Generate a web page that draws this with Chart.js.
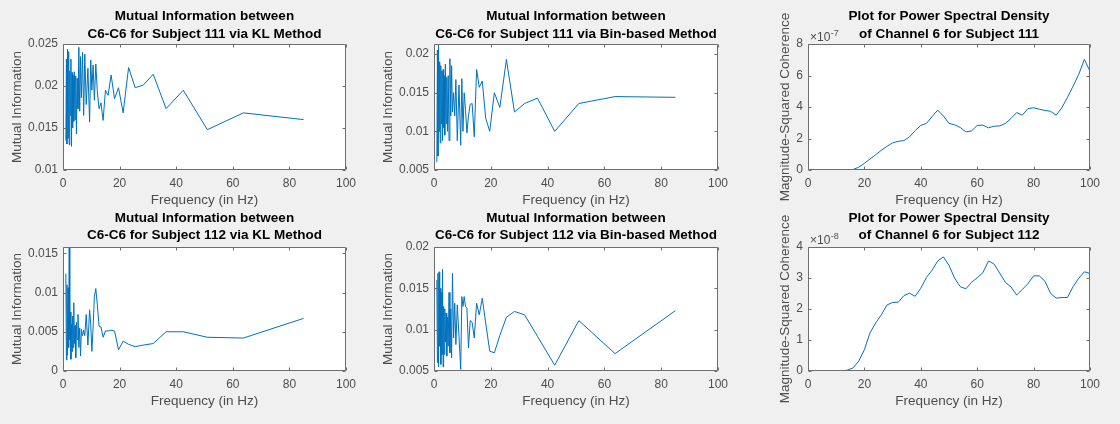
<!DOCTYPE html>
<html><head><meta charset="utf-8">
<script src="https://cdn.jsdelivr.net/npm/chart.js@4.4.1/dist/chart.umd.min.js"></script>
<style>
html,body{margin:0;padding:0;background:#f0f0f0;}
#wrap{position:relative;width:1120px;height:424px;background:#f0f0f0;overflow:hidden;}
#wrap canvas{position:absolute;}
</style></head><body><div id="wrap"></div>
<script>
// ---------- data ----------
const freqHz = [1.0,1.2,1.4,1.6,1.8,2.0,2.2,2.4,2.6,2.8,3.0,3.2,3.4,3.6,3.8,4.0,4.25,4.5,4.75,5.0,5.3,5.6,5.9,6.2,6.5,6.9,7.3,7.7,8.2,8.8,9.4,9.8,
  10.2,10.63,11.09,11.59,12.14,12.75,13.42,14.17,15,15.94,17,18.21,19.62,21.25,23.18,25.5,28.33,31.88,36.43,42.5,51,63.75,85];
const miKL111 = [0.0135,0.0232,0.0131,0.0244,0.0138,0.0241,0.0130,0.0218,0.0165,0.0232,0.0128,0.0216,0.0150,0.0213,0.0158,0.0217,0.0160,0.0212,0.0143,0.0209,0.0173,0.0246,0.0170,0.0235,0.0186,0.0240,0.0165,0.0238,0.0178,0.0221,0.0157,0.0231,
  0.0195,0.0225,0.0183,0.0226,0.0193,0.0173,0.0180,0.0159,0.0195,0.0189,0.0213,0.0185,0.0198,0.0168,0.0222,0.0198,0.0201,0.0214,0.0173,0.0195,0.0148,0.0168,0.0160];
const miBin111 = [0.0060,0.0205,0.0068,0.0213,0.0100,0.0190,0.0085,0.0185,0.0110,0.0178,0.0088,0.0180,0.0105,0.0172,0.0095,0.0187,0.0110,0.0170,0.0100,0.0172,0.0088,0.0194,0.0120,0.0185,0.0125,0.0150,0.0120,0.0167,0.0088,0.0160,0.0082,0.0168,
  0.0100,0.0150,0.0128,0.0098,0.0120,0.0135,0.0136,0.0093,0.0180,0.0157,0.0165,0.0117,0.0100,0.0150,0.0131,0.0193,0.0125,0.0136,0.0143,0.0100,0.0136,0.0145,0.0144];
const miKL112 = [0.0124,0.0014,0.0110,0.0020,0.0106,0.0030,0.0158,0.0040,0.0075,0.0015,0.0060,0.0025,0.0070,0.0030,0.0087,0.0035,0.0058,0.0017,0.0062,0.0040,0.0072,0.0030,0.0055,0.0019,0.0053,0.0045,0.0052,0.0045,0.0072,0.0033,0.0078,0.0060,
  0.0025,0.0055,0.0095,0.0105,0.0084,0.0057,0.0056,0.0043,0.0051,0.0051,0.0052,0.0051,0.0027,0.0038,0.0034,0.0031,0.0033,0.0035,0.0050,0.0050,0.0043,0.0042,0.0067];
const miBin112 = [0.0160,0.0060,0.0168,0.0055,0.0170,0.0080,0.0150,0.0058,0.0145,0.0070,0.0173,0.0055,0.0128,0.0070,0.0125,0.0085,0.0120,0.0068,0.0115,0.0080,0.0145,0.0072,0.0125,0.0066,0.0168,0.0090,0.0132,0.0082,0.0130,0.0092,0.0052,0.0140,
  0.0128,0.0140,0.0128,0.0126,0.0078,0.0111,0.0109,0.0090,0.0132,0.0118,0.0138,0.0108,0.0074,0.0072,0.0093,0.0115,0.0122,0.0118,0.0092,0.0057,0.0111,0.0071,0.0123];

const psdFreqHz = [0,2,4,6,8,10,12,14,16,18,20,22,24,26,28,30,32,34,36,38,40,42,44,46,48,50,52,54,56,58,60,62,64,66,68,70,72,74,76,78,80,82,84,86,88,90,92,94,96,98,100];
// in units of 1e-7
const psd111 = [0,0,0,0,0,0,0,0.005,0.03,0.18,0.42,0.70,0.97,1.25,1.50,1.72,1.82,1.87,2.10,2.50,2.83,2.96,3.39,3.80,3.43,2.96,2.87,2.70,2.42,2.48,2.83,2.85,2.68,2.78,2.80,2.96,3.28,3.65,3.48,3.90,3.95,3.86,3.78,3.73,3.48,3.95,4.61,5.32,6.07,7.02,6.27];
// in units of 1e-8
const psd112 = [0,0,0,0,0,0,0,0.03,0.10,0.32,0.69,1.23,1.55,1.81,2.13,2.21,2.22,2.43,2.51,2.41,2.67,3.02,3.25,3.55,3.68,3.41,2.99,2.72,2.65,2.86,3.01,3.17,3.55,3.45,3.15,2.86,2.71,2.45,2.63,2.82,3.07,3.07,2.90,2.51,2.35,2.37,2.37,2.72,2.99,3.20,3.15];

const xTicks = [0,20,40,60,80,100];
const ticksKL111 = [0.01,0.015,0.02,0.025];
const ticksBin111 = [0.005,0.01,0.015,0.02];
const ticksKL112 = [0,0.005,0.01,0.015];
const ticksBin112 = [0.005,0.01,0.015,0.02];
const ticksPsd111 = [0,2,4,6,8];
const ticksPsd112 = [0,1,2,3,4];

const titleKL111 = ['Mutual Information between','C6-C6 for Subject 111 via KL Method'];
const titleBin111 = ['Mutual Information between','C6-C6 for Subject 111 via Bin-based Method'];
const titlePsd111 = ['Plot for Power Spectral Density','of Channel 6 for Subject 111'];
const titleKL112 = ['Mutual Information between','C6-C6 for Subject 112 via KL Method'];
const titleBin112 = ['Mutual Information between','C6-C6 for Subject 112 via Bin-based Method'];
const titlePsd112 = ['Plot for Power Spectral Density','of Channel 6 for Subject 112'];
const xLabel = 'Frequency (in Hz)';
const yLabelMI = 'Mutual Information';
const yLabelPsd = 'Magnitude-Squared Coherence';

// ---------- drawing ----------
const FONT = '"Liberation Sans", Arial, Helvetica, sans-serif';
const LINE = '#0072BD';
const TXT = '#4d4d4d';
const AXC = '#6e6e6e';
const XH = 38.8;

const matlabAxes = {
  id: 'matlabAxes',
  beforeDraw(chart) {
    const a = chart.chartArea, ctx = chart.ctx;
    ctx.save();
    ctx.fillStyle = '#ffffff';
    ctx.fillRect(a.left, a.top, a.right - a.left, a.bottom - a.top);
    ctx.restore();
  },
  afterDraw(chart, args, o) {
    const a = chart.chartArea, ctx = chart.ctx;
    const xs = chart.scales.x, ys = chart.scales.y;
    ctx.save();
    ctx.strokeStyle = AXC;
    ctx.lineWidth = 1;
    const l = Math.round(a.left) + 0.5, r = Math.round(a.right) - 0.5;
    const t = Math.round(a.top) + 0.5, b = Math.round(a.bottom) - 0.5;
    ctx.beginPath();
    ctx.rect(l, t, r - l, b - t);
    const tl = 3;
    xs.ticks.forEach(tk => {
      const px = Math.round(xs.getPixelForValue(tk.value)) + 0.5;
      ctx.moveTo(px, b); ctx.lineTo(px, b - tl);
      ctx.moveTo(px, t); ctx.lineTo(px, t + tl);
    });
    ys.ticks.forEach(tk => {
      const py = Math.round(ys.getPixelForValue(tk.value)) + 0.5;
      ctx.moveTo(l, py); ctx.lineTo(l + tl, py);
      ctx.moveTo(r, py); ctx.lineTo(r - tl, py);
    });
    ctx.stroke();
    // title
    ctx.fillStyle = '#000';
    ctx.font = 'bold 13.5px ' + FONT;
    ctx.textAlign = 'center';
    ctx.textBaseline = 'middle';
    const cx = (a.left + a.right) / 2;
    o.title.forEach((s, i) => ctx.fillText(s, cx, o.titleY[i]));
    // exponent
    if (o.exponent) {
      ctx.fillStyle = TXT;
      ctx.textAlign = 'left';
      ctx.font = '12px ' + FONT;
      const ex = a.left + 2, ey = a.top - 6;
      ctx.fillText('\u00d710', ex, ey);
      const w = ctx.measureText('\u00d710').width;
      ctx.font = '9px ' + FONT;
      ctx.fillText(o.exponent, ex + w + 0.5, ey - 4.5);
    }
    ctx.restore();
  }
};

const wrap = document.getElementById('wrap');

function makePlot(p) {
  const c = document.createElement('canvas');
  c.width = p.reg.w; c.height = p.reg.h;
  c.style.left = p.reg.x + 'px'; c.style.top = p.reg.y + 'px';
  c.style.width = p.reg.w + 'px'; c.style.height = p.reg.h + 'px';
  wrap.appendChild(c);
  const pts = p.x.map((xv, i) => ({x: xv, y: p.y[i]}));
  new Chart(c, {
    type: 'line',
    data: {datasets: [{data: pts, borderColor: LINE, borderWidth: 1, pointRadius: 0, tension: 0, fill: false}]},
    options: {
      responsive: false, animation: false, devicePixelRatio: 1,
      events: [],
      layout: {padding: {
        left: (p.box.L - p.reg.x) - p.yw,
        right: (p.reg.x + p.reg.w) - p.box.R,
        top: p.box.T - p.reg.y,
        bottom: (p.reg.y + p.reg.h) - p.box.B - XH
      }},
      plugins: {
        legend: {display: false}, tooltip: {enabled: false}, title: {display: false},
        matlabAxes: {title: p.title, titleY: p.titleY.map(v => v - p.reg.y), exponent: p.exponent}
      },
      scales: {
        x: {
          type: 'linear', min: 0, max: 100,
          grid: {display: false, drawTicks: false}, border: {display: false},
          ticks: {autoSkip: false, maxRotation: 0, minRotation: 0, padding: 6, color: TXT,
                  font: {family: FONT, size: 12}, callback: v => String(v)},
          afterBuildTicks: s => { s.ticks = xTicks.map(v => ({value: v})); },
          afterFit: s => { s.height = XH; s.paddingLeft = 0; s.paddingRight = 0; },
          title: {display: true, text: xLabel, color: TXT, padding: 0, font: {family: FONT, size: 13.5, lineHeight: 1.2}}
        },
        y: {
          type: 'linear', min: p.ymin, max: p.ymax,
          grid: {display: false, drawTicks: false}, border: {display: false},
          ticks: {autoSkip: false, padding: 5, color: TXT, font: {family: FONT, size: 12}, callback: v => String(v)},
          afterBuildTicks: s => { s.ticks = p.yticks.map(v => ({value: v})); },
          afterFit: s => { s.width = p.yw; s.paddingTop = 0; s.paddingBottom = 0; },
          title: {display: true, text: p.ylabel, color: TXT, padding: 0, font: {family: FONT, size: 13.5, lineHeight: 1.2}}
        }
      }
    },
    plugins: [matlabAxes]
  });
}

const R1 = {T: 44, B: 170}, R2 = {T: 247, B: 371};
const C1 = {L: 63, R: 346}, C2 = {L: 434, R: 718}, C3 = {L: 808, R: 1090};
const reg = (x, y, w, h) => ({x, y, w, h});

makePlot({reg: reg(0, 0, 373, 212), box: {...C1, ...R1}, yw: 53.8, x: freqHz, y: miKL111,
  ymin: 0.01, ymax: 0.025, yticks: ticksKL111, ylabel: yLabelMI, title: titleKL111, titleY: [16.7, 34]});
makePlot({reg: reg(373, 0, 373, 212), box: {...C2, ...R1}, yw: 53.8, x: freqHz, y: miBin111,
  ymin: 0.005, ymax: 0.0213, yticks: ticksBin111, ylabel: yLabelMI, title: titleBin111, titleY: [16.7, 34]});
makePlot({reg: reg(746, 0, 374, 212), box: {...C3, ...R1}, yw: 31.1, x: psdFreqHz, y: psd111,
  ymin: 0, ymax: 8, yticks: ticksPsd111, ylabel: yLabelPsd, title: titlePsd111, titleY: [16.7, 34], exponent: '-7'});
makePlot({reg: reg(0, 212, 373, 212), box: {...C1, ...R2}, yw: 53.8, x: freqHz, y: miKL112,
  ymin: 0, ymax: 0.0158, yticks: ticksKL112, ylabel: yLabelMI, title: titleKL112, titleY: [218, 235.7]});
makePlot({reg: reg(373, 212, 373, 212), box: {...C2, ...R2}, yw: 53.8, x: freqHz, y: miBin112,
  ymin: 0.005, ymax: 0.02, yticks: ticksBin112, ylabel: yLabelMI, title: titleBin112, titleY: [218, 235.7]});
makePlot({reg: reg(746, 212, 374, 212), box: {...C3, ...R2}, yw: 31.1, x: psdFreqHz, y: psd112,
  ymin: 0, ymax: 4, yticks: ticksPsd112, ylabel: yLabelPsd, title: titlePsd112, titleY: [218, 235.7], exponent: '-8'});
</script>
</body></html>
